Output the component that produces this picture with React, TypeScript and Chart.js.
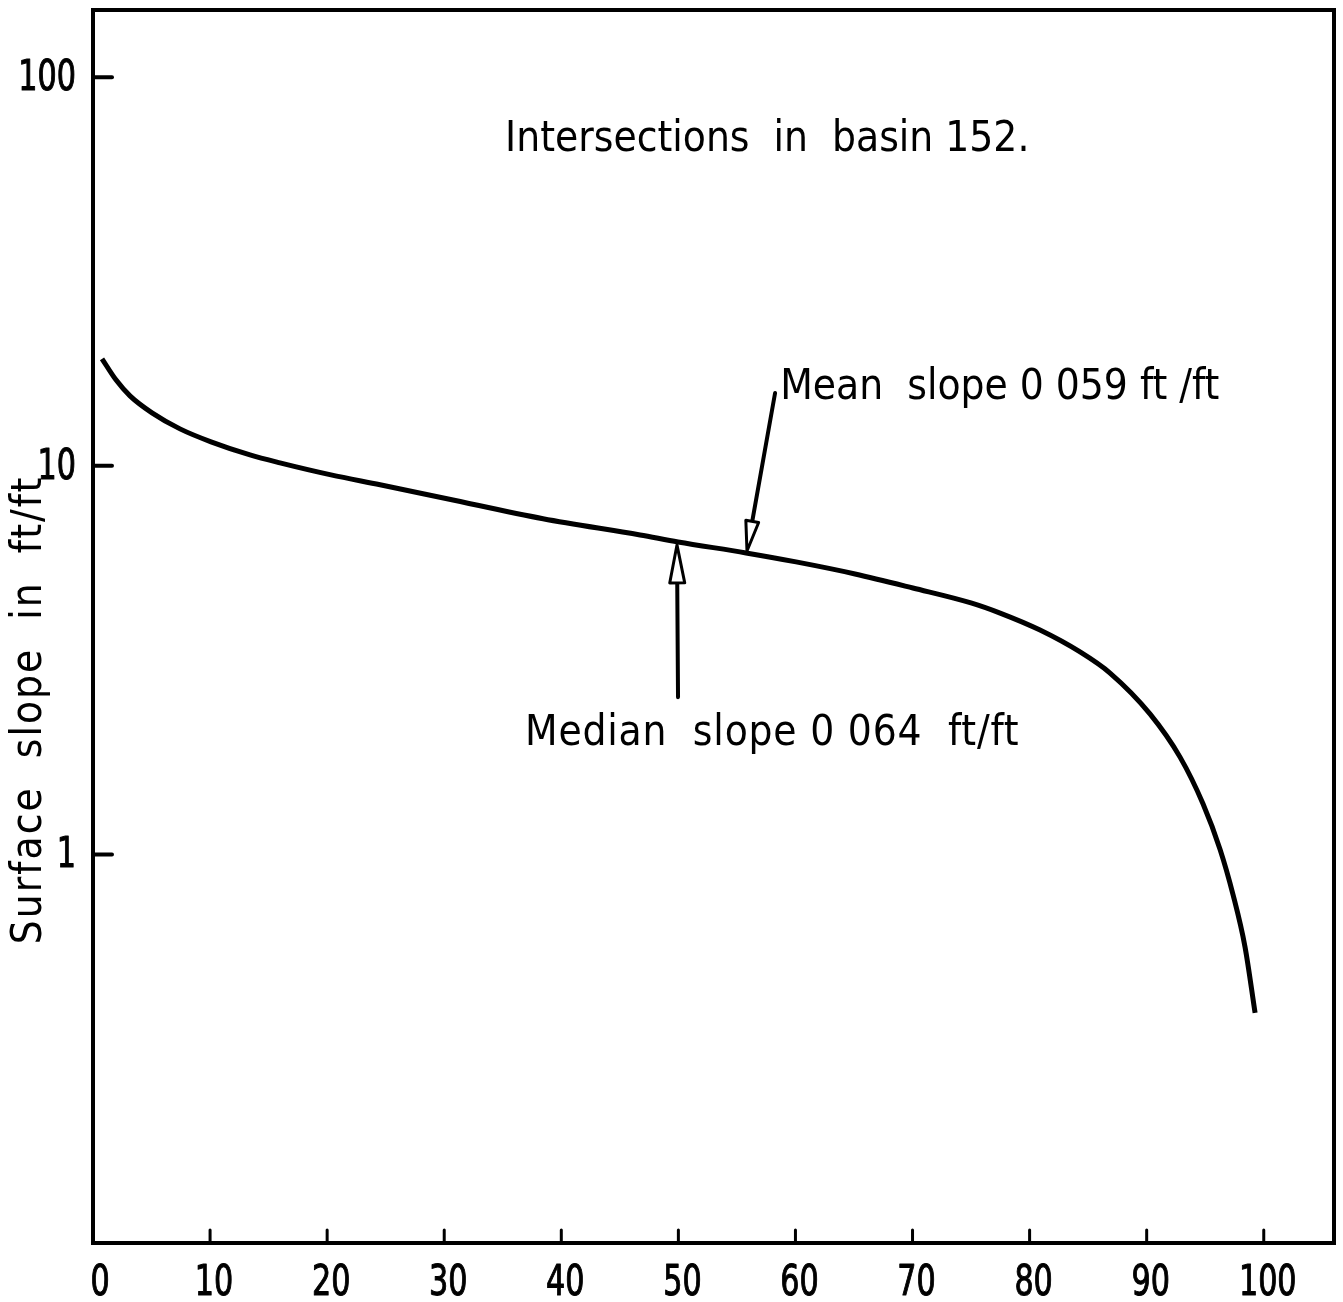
import React, { useEffect, useRef } from "react";
import { Chart, registerables } from "chart.js";

Chart.register(...registerables);

// Percentage of intersections (x) and surface slope (y, log scale)
const percentX = [0.77, 1.96, 3.16, 5.04, 7.43, 10.08, 13.41, 15.97, 20.33, 24.52, 30.24, 38.44, 46.73, 49.97, 55.78, 60.05, 65.09, 70.03, 74.99, 77.48, 80.89, 84.31, 86.87, 90.28, 92.85, 94.81, 96.27, 97.38, 98.4, 99.26];
const slopeY = [18.86, 16.65, 15.14, 13.69, 12.45, 11.53, 10.67, 10.18, 9.48, 8.94, 8.23, 7.31, 6.64, 6.37, 5.97, 5.66, 5.27, 4.85, 4.44, 4.18, 3.78, 3.32, 2.93, 2.3, 1.78, 1.35, 1.03, 0.787, 0.578, 0.391];

const xTicks = [0, 10, 20, 30, 40, 50, 60, 70, 80, 90, 100];
const xTickLabels = ["0", "10", "20", "30", "40", "50", "60", "70", "80", "90", "100"];
const yTicks = [1, 10, 100];
const yTickLabels = ["1", "10", "100"];

const yTitle = "Surface  slope  in  ft/ft";

// Annotation texts and their data anchors (left edge, vertical centre)
const noteTexts = ["Intersections  in  basin 152.", "Mean  slope 0 059 ft /ft", "Median  slope 0 064  ft/ft"];
const noteX = [35.2, 58.7, 36.9];
const noteY = [69.0, 15.9, 2.04];
const noteSpacing = ["0px", "0px", "0.8px"];

// Arrows (tail -> tip) in data coordinates
const arrowFromX = [58.26, 49.97];
const arrowFromY = [15.4, 2.54];
const arrowToX = [55.86, 49.88];
const arrowToY = [6.04, 6.26];
const arrowHeadLen = [30, 38];
const arrowHeadHalf = [6.5, 7.5];

const FAMILY = "'DejaVu Sans Condensed', 'DejaVu Sans', sans-serif";

const overlay = {
  id: "overlay",
  afterDraw(chart: any) {
    const { ctx, chartArea: a, scales } = chart;
    const xs = scales.x;
    const ys = scales.y;
    ctx.save();
    ctx.strokeStyle = "#000";
    ctx.fillStyle = "#000";
    ctx.lineCap = "round";
    const line = (x1: number, y1: number, x2: number, y2: number, w: number) => {
      ctx.lineWidth = w;
      ctx.beginPath();
      ctx.moveTo(x1, y1);
      ctx.lineTo(x2, y2);
      ctx.stroke();
    };
    // frame
    ctx.lineCap = "butt";
    ctx.lineWidth = 4;
    ctx.strokeRect(a.left, a.top, a.right - a.left, a.bottom - a.top);
    ctx.lineCap = "round";
    // inward ticks
    yTicks.forEach((v) => {
      const py = ys.getPixelForValue(v);
      line(a.left, py, a.left + 19, py, 4);
    });
    xTicks.forEach((v) => {
      if (v === 0) return;
      const px = xs.getPixelForValue(v);
      line(px, a.bottom, px, a.bottom - 13, 3);
    });
    // tick labels (narrow lettering)
    ctx.font = `42px ${FAMILY}`;
    const squeeze = 0.8;
    ctx.lineWidth = 1;
    ctx.lineJoin = "round";
    yTicks.forEach((v, i) => {
      const py = ys.getPixelForValue(v);
      ctx.save();
      ctx.translate(a.left - 17, py + 2);
      ctx.scale(squeeze, 1);
      ctx.textAlign = "right";
      ctx.textBaseline = "middle";
      ctx.fillText(yTickLabels[i], 0, 0);
      ctx.strokeText(yTickLabels[i], 0, 0);
      ctx.restore();
    });
    xTicks.forEach((v, i) => {
      const px = xs.getPixelForValue(v) + (v === 0 ? 7 : 4);
      ctx.save();
      ctx.translate(px, 1295);
      ctx.scale(squeeze, 1);
      ctx.textAlign = "center";
      ctx.textBaseline = "alphabetic";
      ctx.fillText(xTickLabels[i], 0, 0);
      ctx.strokeText(xTickLabels[i], 0, 0);
      ctx.restore();
    });
    // arrows
    for (let i = 0; i < arrowFromX.length; i++) {
      const tx = xs.getPixelForValue(arrowFromX[i]);
      const ty = ys.getPixelForValue(arrowFromY[i]);
      const hx = xs.getPixelForValue(arrowToX[i]);
      const hy = ys.getPixelForValue(arrowToY[i]);
      const dx = hx - tx;
      const dy = hy - ty;
      const len = Math.hypot(dx, dy);
      const ux = dx / len;
      const uy = dy / len;
      const nx = -uy;
      const ny = ux;
      const L = arrowHeadLen[i];
      const W = arrowHeadHalf[i];
      const bx = hx - ux * L;
      const by = hy - uy * L;
      line(tx, ty, bx, by, 4);
      ctx.beginPath();
      ctx.moveTo(hx, hy);
      ctx.lineTo(bx + nx * W, by + ny * W);
      ctx.lineTo(bx - nx * W, by - ny * W);
      ctx.closePath();
      ctx.fillStyle = "#fff";
      ctx.fill();
      ctx.lineWidth = 3;
      ctx.lineJoin = "round";
      ctx.stroke();
      ctx.fillStyle = "#000";
    }
    // annotation texts
    ctx.font = `42px ${FAMILY}`;
    ctx.textAlign = "left";
    ctx.textBaseline = "middle";
    for (let i = 0; i < noteTexts.length; i++) {
      (ctx as any).letterSpacing = noteSpacing[i];
      ctx.fillText(noteTexts[i], xs.getPixelForValue(noteX[i]), ys.getPixelForValue(noteY[i]));
    }
    // y axis title
    (ctx as any).letterSpacing = "2px";
    ctx.translate(30, 710);
    ctx.rotate(-Math.PI / 2);
    ctx.textAlign = "center";
    ctx.fillText(yTitle, 0, 0);
    ctx.restore();
  },
};

export default function App() {
  const ref = useRef<HTMLCanvasElement | null>(null);
  useEffect(() => {
    if (!ref.current) return;
    const chart = new Chart(ref.current, {
      type: "line",
      data: {
        datasets: [
          {
            data: percentX.map((x, i) => ({ x, y: slopeY[i] })),
            borderColor: "#000",
            borderWidth: 5,
            pointRadius: 0,
            cubicInterpolationMode: "monotone",
            fill: false,
          },
        ],
      },
      options: {
        responsive: false,
        animation: false,
        layout: { padding: { left: 0, right: 9, top: 10, bottom: 0 } },
        plugins: { legend: { display: false }, tooltip: { enabled: false } },
        scales: {
          x: {
            type: "linear",
            min: 0,
            max: 106,
            afterBuildTicks: (s: any) => {
              s.ticks = xTicks.map((v) => ({ value: v }));
            },
            afterFit: (s: any) => {
              s.height = 59;
              s.paddingLeft = 0;
              s.paddingRight = 0;
            },
            grid: { display: false, drawTicks: false },
            border: { display: false },
            ticks: { display: false },
          },
          y: {
            type: "logarithmic",
            min: 0.1,
            max: 149,
            afterBuildTicks: (s: any) => {
              s.ticks = yTicks.map((v) => ({ value: v }));
            },
            afterFit: (s: any) => {
              s.width = 93;
              s.paddingTop = 0;
              s.paddingBottom = 0;
            },
            grid: { display: false, drawTicks: false },
            border: { display: false },
            ticks: { display: false },
          },
        },
      } as any,
      plugins: [overlay],
    });
    return () => chart.destroy();
  }, []);
  return (
    <div style={{ position: "absolute", left: 0, top: 0, width: 1343, height: 1302, background: "#fff" }}>
      <canvas ref={ref} width={1343} height={1302} style={{ display: "block" }} />
    </div>
  );
}
